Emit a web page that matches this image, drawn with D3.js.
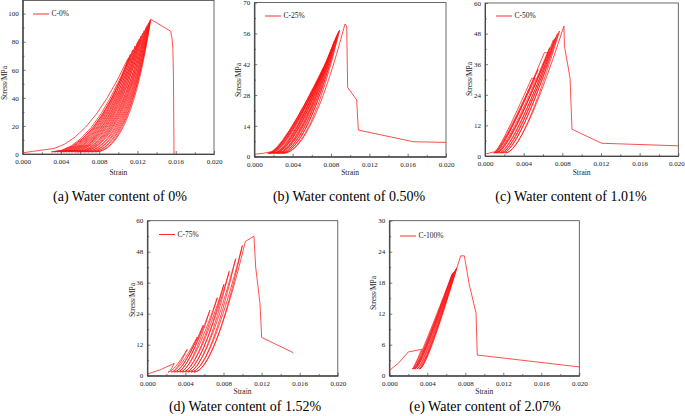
<!DOCTYPE html>
<html><head><meta charset="utf-8">
<script src="https://cdn.jsdelivr.net/npm/d3@7"></script>
<style>body{margin:0;background:#fff} svg{display:block}</style>
</head><body>
<svg id="chart" width="685" height="416"></svg>
<script>
// ---------------- data ----------------
const xTicks = [0, 0.004, 0.008, 0.012, 0.016, 0.020];
const xMinor = [0.002, 0.006, 0.010, 0.014, 0.018];
const yTicksA = [0, 20, 40, 60, 80, 100];
const yTicksB = [0, 14, 28, 42, 56, 70];
const yTicksC = [0, 12, 24, 36, 48, 60];
const yTicksD = [0, 12, 24, 36, 48, 60];
const yTicksE = [0, 6, 12, 18, 24, 30];
const legendNames = ["C-0%", "C-25%", "C-50%", "C-75%", "C-100%"];
const captions = ["(a) Water content of 0%", "(b) Water content of 0.50%", "(c) Water content of 1.01%",
                  "(d) Water content of 1.52%", "(e) Water content of 2.07%"];

// initial loading [strain, stress]
const initA = [[0, 0.9], [0.0010, 1.8], [0.00216, 2.9]];
const initB = [[0, 1.1], [0.0010, 1.6], [0.0018, 2.3]];
const initC = [[0, 0.7], [0.0010, 1.7]];
const initD = [[0, 0.65], [0.0013, 2.2], [0.0025, 4.2], [0.00283, 4.8]];
const initE = [[0, 1.0], [0.00095, 2.4], [0.0020, 4.6], [0.0034, 5.1]];

// cycles: [reload start strain (null = end of initial loading), peak strain, peak stress,
//          unload start strain, residual strain]
const loopsA = [
  [null, 0.0110, 68, 0.01112, 0.0030],
  [0.0030, 0.01126, 71, 0.01126, 0.0033], [0.0033, 0.01151, 74, 0.01151, 0.0036],
  [0.0036, 0.01177, 77, 0.01177, 0.0039], [0.0039, 0.01203, 80, 0.01203, 0.0042],
  [0.0042, 0.0122, 82, 0.0122, 0.0045], [0.0045, 0.01237, 84, 0.01237, 0.0048],
  [0.0048, 0.01254, 86, 0.01254, 0.0051], [0.0051, 0.01271, 88, 0.01271, 0.0054],
  [0.0054, 0.01289, 90, 0.01289, 0.0057], [0.0057, 0.01301, 91.5, 0.01301, 0.0060],
  [0.0060, 0.01314, 93, 0.01314, 0.0064], [0.0064, 0.01323, 94, 0.01323, 0.0068],
  [0.0068, 0.01331, 95, 0.01331, 0.0072], [0.0072, 0.01336, 95.5, 0.01336, 0.0076],
  [0.0076, 0.01338, 96, null, null]
];
const loopsB = [
  [null, 0.0072, 40.5, 0.0074, 0.0014],
  [0.0014, 0.00765, 43.5, 0.00765, 0.0015], [0.0015, 0.0078, 45.5, 0.0078, 0.0016],
  [0.0016, 0.0080, 47.5, 0.0080, 0.0017], [0.0017, 0.0081, 49.5, 0.0081, 0.0019],
  [0.0019, 0.0083, 51, 0.0083, 0.0020], [0.0020, 0.00835, 52.5, 0.00835, 0.0021],
  [0.0021, 0.0085, 54, 0.0085, 0.0023], [0.0023, 0.0086, 55, 0.0086, 0.0024],
  [0.0024, 0.0087, 56, 0.0087, 0.0026], [0.0026, 0.0088, 57, 0.0088, 0.0028],
  [0.0028, 0.0089, 57.5, 0.0089, 0.0030],
  [0.0030, 0.00946, 60.3, null, null]
];
const loopsC = [
  [null, 0.00483, 30.5, 0.0052, 0.0009],
  [0.0009, 0.0055, 34, 0.0055, 0.0010], [0.0010, 0.00614, 40.5, 0.0066, 0.0011],
  [0.0011, 0.0067, 42.5, 0.0067, 0.0012], [0.0012, 0.00707, 45.5, 0.00714, 0.0014],
  [0.0014, 0.0073, 46.5, 0.0073, 0.0016], [0.0016, 0.0075, 48, 0.0075, 0.0018],
  [0.0018, 0.0077, 49, 0.0077, 0.0021],
  [0.0021, 0.00817, 51, null, null]
];
const loopsD = [
  [null, 0.00283, 4.8, 0.00283, 0.0022], [0.0022, 0.0042, 10.2, 0.0042, 0.0025],
  [0.0025, 0.00525, 15, 0.00525, 0.0028], [0.0028, 0.00588, 19.6, 0.00588, 0.0031],
  [0.0031, 0.00658, 25.4, 0.00658, 0.0034], [0.0034, 0.00735, 30.2, 0.00735, 0.0037],
  [0.0037, 0.00805, 35.4, 0.00805, 0.0040], [0.0040, 0.0086, 40.4, 0.0086, 0.0043],
  [0.0043, 0.00928, 45.3, 0.00928, 0.0046], [0.0046, 0.00998, 50.4, 0.00998, 0.0049],
  [0.0049, 0.0103, 52, null, null]
];
const loopsE = [
  [null, 0.0034, 5.1, 0.0034, 0.0024],
  [0.0024, 0.0066, 19.6, 0.0066, 0.0025], [0.0025, 0.0067, 19.9, 0.0067, 0.0026],
  [0.0026, 0.0068, 20.1, 0.0068, 0.0027], [0.0027, 0.00692, 20.3, 0.00692, 0.0029],
  [0.0029, 0.0070, 20.6, 0.0070, 0.0031], [0.0031, 0.0071, 20.9, 0.0071, 0.0032],
  [0.0032, 0.00751, 23.2, null, null]
];

// post-peak [strain, stress]
const postA = [[0.01338, 96], [0.01547, 87.5], [0.01562, 82], [0.01570, 75], [0.01576, 55], [0.01582, 0]];
const postB = [[0.00946, 60.3], [0.00964, 59.4], [0.00974, 31.5], [0.01068, 25.8], [0.01085, 12.1], [0.01659, 6.8], [0.0200, 6.5]];
const postC = [[0.00817, 51], [0.00822, 43], [0.00860, 35], [0.00880, 30.5], [0.00900, 10.5], [0.01207, 5], [0.0200, 4.0]];
const postD = [[0.0103, 52], [0.0112, 54], [0.01138, 42], [0.01183, 28], [0.01201, 14.8], [0.01533, 8.9]];
const postE = [[0.00751, 23.2], [0.0079, 23.2], [0.00842, 17.6], [0.00913, 12.1], [0.00926, 4.0], [0.0200, 1.7]];

// ---------------- layout ----------------
const FONT = "'Liberation Serif','Times New Roman',serif";
const RED = "#ff1414";
const panels = [
  {x0: 22.7, x1: 214, yb: 154, yt: -0.4, ymax: 110, ticks: yTicksA, ym: 10, init: initA, loops: loopsA, post: postA, s0: 1.5, k: [0.5, 0.6], dku: 0.05,
   leg: [33, 14], ylab: [4, 83], xlabY: 175, cap: [120, 201]},
  {x0: 254.3, x1: 446, yb: 156.7, yt: 2.6, ymax: 70, ticks: yTicksB, ym: 7, init: initB, loops: loopsB, post: postB, s0: 1.5, k: [0.2, 0.45], dku: 0.05,
   leg: [265, 16], ylab: [238.3, 80], xlabY: 175, cap: [349, 201]},
  {x0: 485, x1: 678.3, yb: 156, yt: 3, ymax: 60, ticks: yTicksC, ym: 6, init: initC, loops: loopsC, post: postC, s0: 1.2, k: [0.12, 0.3], dku: 0.05,
   leg: [496, 16], ylab: [469, 79], xlabY: 175, cap: [571, 201]},
  {x0: 147.3, x1: 337.8, yb: 375.7, yt: 220.7, ymax: 60, ticks: yTicksD, ym: 6, init: initD, loops: loopsD, post: postD, s0: 1.4, k: [0.28, 0.38], dku: 0.05,
   leg: [159, 234.5], ylab: [132.7, 300], xlabY: 394, cap: [245, 411]},
  {x0: 389.3, x1: 579.3, yb: 375.7, yt: 220.7, ymax: 30, ticks: yTicksE, ym: 3, init: initE, loops: loopsE, post: postE, s0: 1.3, k: [0.1, 0.15], dku: 0.05,
   leg: [400, 236], ylab: [373.3, 293], xlabY: 394, cap: [485, 411]}
];

const svg = d3.select("#chart");

panels.forEach((p, i) => {
  const x = d3.scaleLinear().domain([0, 0.020]).range([p.x0, p.x1]);
  const y = d3.scaleLinear().domain([0, p.ymax]).range([p.yb, p.yt]);
  const g = svg.append("g");
  const top = Math.max(p.yt, 0.5);

  // frame
  g.append("rect").attr("x", p.x0).attr("y", top).attr("width", p.x1 - p.x0)
    .attr("height", p.yb - top).attr("fill", "none").attr("stroke", "#444").attr("stroke-width", 0.8);

  // axes (ticks inward)
  const xAxis = d3.axisBottom(x).tickValues(xTicks).tickFormat(d3.format(".3f")).tickSizeInner(-3).tickSizeOuter(0).tickPadding(5);
  const gx = g.append("g").attr("transform", `translate(0,${p.yb})`).call(xAxis);
  const gxm = g.append("g").attr("transform", `translate(0,${p.yb})`)
    .call(d3.axisBottom(x).tickValues(xMinor).tickFormat("").tickSizeInner(-1.8).tickSizeOuter(0));

  const yMinorVals = p.ticks.slice(0, -1).map(v => v + p.ym).filter(v => v < p.ymax);
  const gy = g.append("g").attr("transform", `translate(${p.x0},0)`)
    .call(d3.axisLeft(y).tickValues(p.ticks).tickSizeInner(-3).tickSizeOuter(0).tickPadding(4));
  const gym = g.append("g").attr("transform", `translate(${p.x0},0)`)
    .call(d3.axisLeft(y).tickValues(yMinorVals).tickFormat("").tickSizeInner(-1.8).tickSizeOuter(0));

  [gx, gxm, gy, gym].forEach(a => {
    a.select(".domain").attr("stroke", "#444").attr("stroke-width", 0.8);
    a.selectAll(".tick line").attr("stroke", "#444").attr("stroke-width", 0.7);
    a.selectAll("text").attr("font-family", FONT).attr("font-size", 7).attr("fill", "#222");
  });
  gy.selectAll("text").attr("dy", "0.32em");
  // keep the last x label inside the picture
  gx.selectAll(".tick text").filter(d => x(d) + 8 > 685).attr("dx", -2);

  // axis titles
  g.append("text").attr("x", (p.x0 + p.x1) / 2).attr("y", p.xlabY).attr("text-anchor", "middle")
    .attr("font-family", FONT).attr("font-size", 7.5).attr("fill", "#222").text("Strain");
  g.append("text").attr("transform", `translate(${p.ylab[0] + 2.5},${p.ylab[1]}) rotate(-90)`).attr("text-anchor", "middle")
    .attr("font-family", FONT).attr("font-size", 7.5).attr("fill", "#222").text("Stress/MPa");

  // curves
  const line = d3.line().x(d => x(d[0])).y(d => y(d[1]));
  const curves = g.append("g").attr("fill", "none").attr("stroke", RED).attr("stroke-width", 0.75).attr("stroke-linejoin", "round");
  curves.append("path").attr("d", line(p.init));
  const last = p.init[p.init.length - 1];
  const n = p.loops.length;
  p.loops.forEach((L, j) => {
    const [es, ep, sp, eh, ee] = L;
    const k = p.k[0] + (p.k[1] - p.k[0]) * (n > 1 ? j / (n - 1) : 0);
    const ku = k + p.dku;
    const sx = es === null ? last[0] : es;
    const sy = es === null ? last[1] : p.s0;
    const path = d3.path();
    path.moveTo(x(sx), y(sy));
    path.quadraticCurveTo(x(sx + k * (ep - sx)), y(sy), x(ep), y(sp));
    if (eh !== null) {
      path.lineTo(x(eh), y(sp));
      path.quadraticCurveTo(x(ee + ku * (eh - ee)), y(p.s0), x(ee), y(p.s0));
    }
    curves.append("path").attr("d", path.toString());
  });
  curves.append("path").attr("d", line(p.post));

  // legend
  g.append("line").attr("x1", p.leg[0]).attr("x2", p.leg[0] + 16).attr("y1", p.leg[1]).attr("y2", p.leg[1])
    .attr("stroke", RED).attr("stroke-width", 0.9);
  g.append("text").attr("x", p.leg[0] + 18.5).attr("y", p.leg[1]).attr("dy", "0.33em")
    .attr("font-family", FONT).attr("font-size", 7.5).attr("fill", "#222").text(legendNames[i]);

  // caption
  svg.append("text").attr("x", p.cap[0]).attr("y", p.cap[1]).attr("text-anchor", "middle")
    .attr("font-family", FONT).attr("font-size", 14).attr("fill", "#000").text(captions[i]);
});
</script>
</body></html>
